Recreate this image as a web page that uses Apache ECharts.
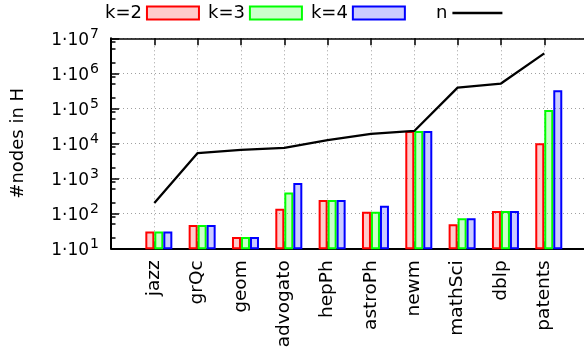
<!DOCTYPE html>
<html>
<head>
<meta charset="utf-8">
<script src="https://cdn.jsdelivr.net/npm/echarts@6/dist/echarts.min.js"></script>
<style>html,body{margin:0;padding:0;background:#fff;}#c{width:584px;height:351px;}</style>
</head>
<body>
<div id="c"></div>
<script>
// ---- data ----
const categories = ['jazz','grQc','geom','advogato','hepPh','astroPh','newm','mathSci','dblp','patents'];
const k2 = [30, 46, 21, 135, 240, 111, 22500, 49, 116, 10000];
const k3 = [30, 46, 21, 390, 240, 111, 22500, 72, 116, 89000];
const k4 = [30, 46, 21, 735, 240, 165, 22500, 72, 116, 330000];
const nNodes = [198, 5242, 6500, 7400, 12400, 18700, 22500, 390000, 510000, 3700000];
const yTickExponents = [1, 2, 3, 4, 5, 6, 7];
const minorMultipliers = [2, 5, 8];

const FONT = 'DejaVu Sans';
const yTicks = yTickExponents.map(e => Math.pow(10, e));
const yMinor = [];
for (let i = 0; i < yTickExponents.length - 1; i++) {
  minorMultipliers.forEach(m => yMinor.push(m * yTicks[i]));
}
const pairs = arr => arr.map((v, i) => [i, v]);

const chart = echarts.init(document.getElementById('c'), null, {renderer: 'canvas'});
const barBase = {type: 'bar', barWidth: 9, barGap: '0%', xAxisIndex: 0, yAxisIndex: 0};
const option = {
  animation: false,
  backgroundColor: '#fff',
  textStyle: {fontFamily: FONT},
  grid: {left: 111, top: 38.3, width: 476.6, height: 210, outerBoundsMode: 'none', containLabel: false},
  legend: [
    {
      left: 105, top: 4, padding: 0, itemWidth: 52, itemHeight: 13, itemGap: 8, align: 'right',
      textStyle: {fontFamily: FONT, fontSize: 18, color: '#000'},
      data: [
        {name: 'k=2', icon: 'rect', itemStyle: {color: 'rgba(255,0,0,0.2)', borderColor: '#ff0000', borderWidth: 2}},
        {name: 'k=3', icon: 'rect', itemStyle: {color: 'rgba(0,255,0,0.2)', borderColor: '#00ff00', borderWidth: 2}},
        {name: 'k=4', icon: 'rect', itemStyle: {color: 'rgba(0,0,255,0.2)', borderColor: '#0000ff', borderWidth: 2}}
      ],
      selectedMode: false
    },
    {
      left: 436, top: 4, padding: 0, itemWidth: 50, itemHeight: 2.3, align: 'right',
      textStyle: {fontFamily: FONT, fontSize: 18, color: '#000'},
      data: [{name: 'n', icon: 'rect', itemStyle: {color: '#000', borderWidth: 0}}],
      selectedMode: false
    }
  ],
  xAxis: [
    {
      type: 'value', min: -1, max: 10, interval: 1, position: 'bottom',
      axisLine: {show: true, onZero: false, lineStyle: {color: '#000', width: 2}},
      axisTick: {show: true, inside: true, length: 7, lineStyle: {color: '#000', width: 1.5}},
      splitLine: {show: true, lineStyle: {color: '#a0a0a0', width: 1, type: [1, 3]}},
      axisLabel: {
        rotate: 90, margin: 12, fontSize: 18.5, fontFamily: FONT, color: '#000',
        showMinLabel: true, showMaxLabel: true,
        formatter: v => (categories[Math.round(v)] !== undefined && Math.abs(v - Math.round(v)) < 1e-6) ? categories[Math.round(v)] : ''
      }
    },
    {
      type: 'value', min: -1, max: 10, interval: 1, position: 'top',
      axisLine: {show: true, onZero: false, lineStyle: {color: '#000', width: 1.5}},
      axisTick: {show: true, inside: true, length: 7, lineStyle: {color: '#000', width: 1.5}},
      splitLine: {show: false},
      axisLabel: {show: false}
    }
  ],
  yAxis: [
    {
      type: 'log', logBase: 10, min: 10, max: 1e7, splitNumber: 6, position: 'left',
      name: '#nodes in H', nameLocation: 'middle', nameRotate: 90, nameGap: 84,
      nameTextStyle: {fontFamily: FONT, fontSize: 18, color: '#000'},
      axisLine: {show: true, onZero: false, lineStyle: {color: '#000', width: 2}},
      axisTick: {show: true, inside: true, length: 8, lineStyle: {color: '#000', width: 1.5}, customValues: yTicks},
      splitLine: {show: true, lineStyle: {color: '#a0a0a0', width: 1, type: [1, 3]}},
      axisLabel: {
        margin: 12, color: '#000', customValues: yTicks,
        formatter: v => '{b|1·10}{s|' + Math.round(Math.log10(v)) + '}',
        rich: {
          b: {fontFamily: FONT, fontSize: 17, color: '#000', verticalAlign: 'bottom'},
          s: {fontFamily: FONT, fontSize: 14, color: '#000', verticalAlign: 'bottom', padding: [0, 0, 8, 1]}
        }
      }
    },
    {
      type: 'log', logBase: 10, min: 10, max: 1e7, position: 'left',
      axisLine: {show: false, onZero: false},
      axisTick: {show: true, inside: true, length: 4.5, lineStyle: {color: '#000', width: 1.5}, customValues: yMinor},
      axisLabel: {show: false},
      splitLine: {show: false}
    }
  ],
  series: [
    Object.assign({}, barBase, {name: 'pad', data: []}),
    Object.assign({}, barBase, {name: 'k=2', data: pairs(k2),
      itemStyle: {color: 'rgba(255,0,0,0.2)', borderColor: '#ff0000', borderWidth: 2}}),
    Object.assign({}, barBase, {name: 'k=3', data: pairs(k3),
      itemStyle: {color: 'rgba(0,255,0,0.2)', borderColor: '#00ff00', borderWidth: 2}}),
    Object.assign({}, barBase, {name: 'k=4', data: pairs(k4),
      itemStyle: {color: 'rgba(0,0,255,0.2)', borderColor: '#0000ff', borderWidth: 2}}),
    {name: 'n', type: 'line', data: pairs(nNodes), symbol: 'none', xAxisIndex: 0, yAxisIndex: 0,
      lineStyle: {color: '#000', width: 2.3}, itemStyle: {color: '#000'}, z: 5}
  ]
};
chart.setOption(option);
</script>
</body>
</html>
